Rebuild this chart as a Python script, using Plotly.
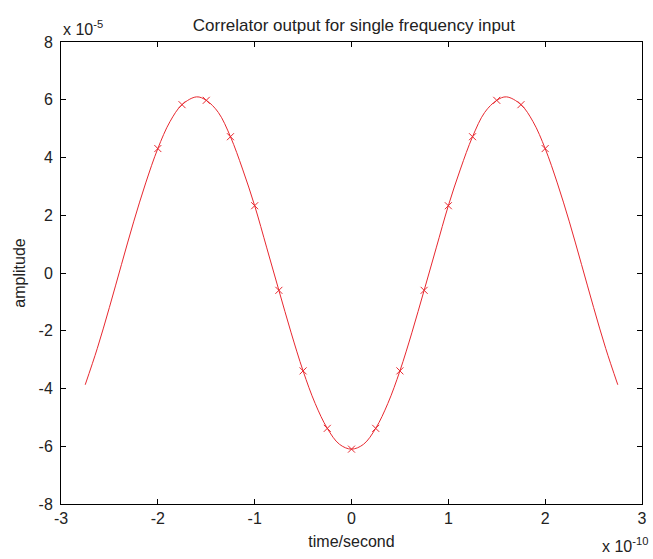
import plotly.graph_objects as go

# Curve samples (x in units of 1e-10 s, y in units of 1e-5)
curve_x = [-2.75, -2.625, -2.5, -2.375, -2.25, -2.125, -2.0, -1.875, -1.75, -1.6, -1.5, -1.375, -1.25,
           -1.125, -1.0, -0.875, -0.75, -0.625, -0.5, -0.375, -0.25, -0.125, 0.0,
           0.125, 0.25, 0.375, 0.5, 0.625, 0.75, 0.875, 1.0, 1.125, 1.25, 1.375, 1.5,
           1.6, 1.75, 1.875, 2.0, 2.125, 2.25, 2.375, 2.5, 2.625, 2.75]
curve_y = [-3.87, -2.61, -1.19, 0.30, 1.77, 3.12, 4.31, 5.24, 5.83, 6.10, 5.98, 5.56, 4.72,
           3.60, 2.33, 0.87, -0.60, -2.05, -3.39, -4.52, -5.38, -5.93, -6.10,
           -5.93, -5.38, -4.52, -3.39, -2.05, -0.60, 0.87, 2.33, 3.60, 4.72, 5.56, 5.98,
           6.10, 5.83, 5.24, 4.31, 3.12, 1.77, 0.30, -1.19, -2.61, -3.87]

# Marker samples
mark_x = [-2.0, -1.75, -1.5, -1.25, -1.0, -0.75, -0.5, -0.25, 0.0,
          0.25, 0.5, 0.75, 1.0, 1.25, 1.5, 1.75, 2.0]
mark_y = [4.31, 5.83, 5.98, 4.72, 2.33, -0.60, -3.39, -5.38, -6.10,
          -5.38, -3.39, -0.60, 2.33, 4.72, 5.98, 5.83, 4.31]

x_ticks = [-3, -2, -1, 0, 1, 2, 3]
y_ticks = [-8, -6, -4, -2, 0, 2, 4, 6, 8]

title_text = "Correlator output for single frequency input"
x_label = "time/second"
y_label = "amplitude"

FONT = "Liberation Sans, Arial, sans-serif"
RED = "#e8282f"
TXT = "#222"

fig = go.Figure()
fig.add_trace(go.Scatter(x=curve_x, y=curve_y, mode="lines",
                         line=dict(color=RED, width=1, shape="spline"),
                         showlegend=False, hoverinfo="skip"))
fig.add_trace(go.Scatter(x=mark_x, y=mark_y, mode="markers",
                         marker=dict(symbol="x-thin", size=7, color=RED,
                                     line=dict(color=RED, width=1)),
                         showlegend=False))

axis_common = dict(showgrid=False, zeroline=False, showline=True, linecolor="black",
                   linewidth=1, mirror="ticks", ticks="inside", ticklen=5,
                   tickcolor="black", tickwidth=1,
                   tickfont=dict(family=FONT, size=16, color=TXT))

fig.update_xaxes(range=[-3, 3], tickvals=x_ticks, ticktext=[str(v) for v in x_ticks],
                 title=dict(text=x_label, font=dict(family=FONT, size=16, color=TXT), standoff=9),
                 **axis_common)
fig.update_yaxes(range=[-8, 8], tickvals=y_ticks, ticktext=[str(v) for v in y_ticks],
                 ticklabelstandoff=4,
                 title=dict(text=y_label, font=dict(family=FONT, size=16, color=TXT), standoff=8),
                 **axis_common)

fig.update_layout(
    width=653, height=559,
    margin=dict(l=61, r=6, t=42, b=55),
    paper_bgcolor="white", plot_bgcolor="white",
    title=dict(text=title_text, x=0.542, xanchor="center", yref="container",
               y=1 - 25 / 559, yanchor="middle",
               font=dict(family=FONT, size=17, color=TXT)),
    annotations=[
        dict(text="x 10<sup>-5</sup>", xref="paper", yref="paper", x=0.0, y=1.0,
             xanchor="left", yanchor="bottom", yshift=2, showarrow=False,
             font=dict(family=FONT, size=16, color=TXT)),
        dict(text="x 10<sup>-10</sup>", xref="paper", yref="paper", x=0.97, y=0.0,
             xanchor="center", yanchor="top", yshift=-29, showarrow=False,
             font=dict(family=FONT, size=16, color=TXT)),
    ],
)

fig.write_html("out.html")
